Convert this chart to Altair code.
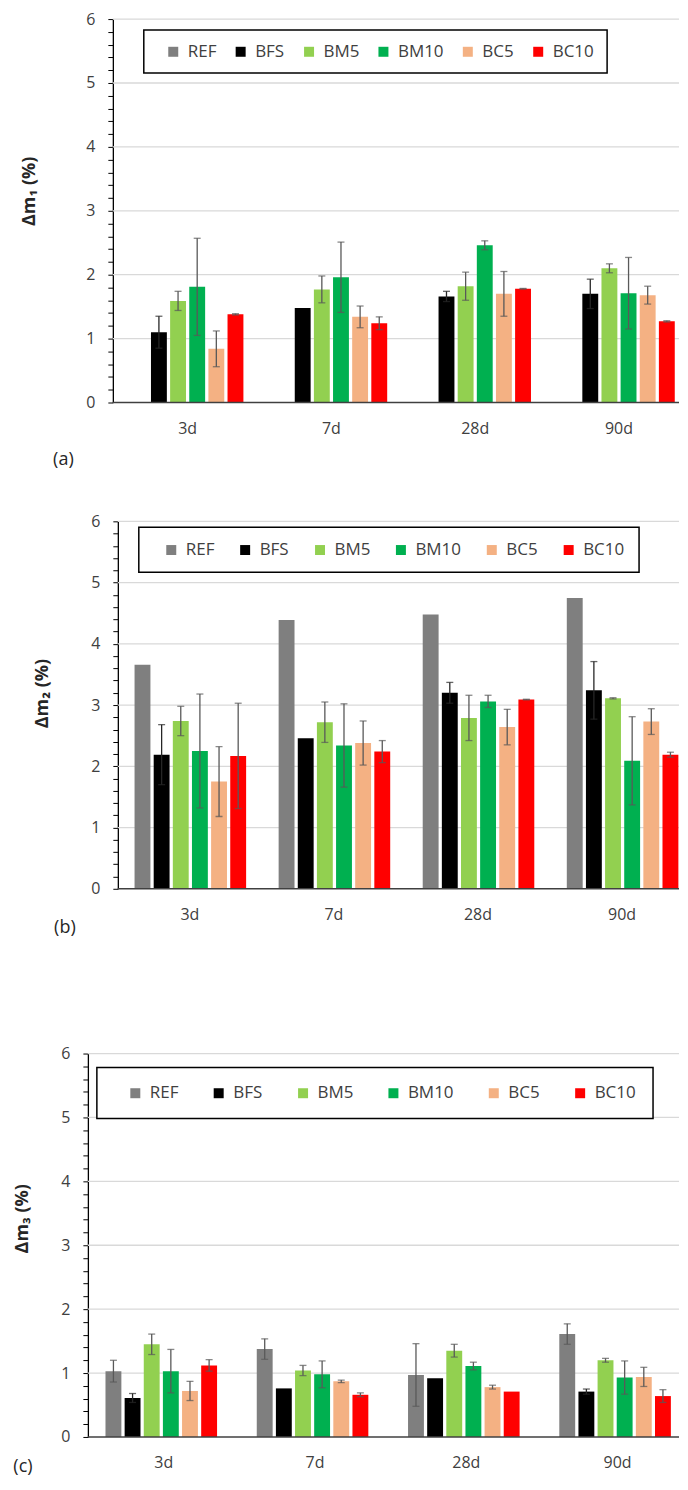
import altair as alt
import pandas as pd

FONT = "Open Sans"

AGES = ["3d", "7d", "28d", "90d"]
SERIES = ["REF", "BFS", "BM5", "BM10", "BC5", "BC10"]
BAR_COLORS = ["#7F7F7F", "#000000", "#92D050", "#00B050", "#F4B183", "#FF0000"]
ERR_COLORS = ["#595959", "#262626", "#595959", "#595959", "#595959", "#595959"]
Y_TICKS = [round(0.2 * i, 1) for i in range(31)]
GRID_Y = [1, 2, 3, 4, 5, 6]

# ---- panel (a): Δm1 (%) ----
A_REF = [None, None, None, None]
A_BFS = [1.10, 1.48, 1.66, 1.70]
A_BM5 = [1.59, 1.77, 1.82, 2.10]
A_BM10 = [1.81, 1.96, 2.46, 1.71]
A_BC5 = [0.84, 1.34, 1.70, 1.68]
A_BC10 = [1.38, 1.24, 1.78, 1.27]
A_REF_ERR = [0, 0, 0, 0]
A_BFS_ERR = [0.25, 0, 0.08, 0.23]
A_BM5_ERR = [0.15, 0.21, 0.22, 0.07]
A_BM10_ERR = [0.76, 0.55, 0.07, 0.56]
A_BC5_ERR = [0.28, 0.17, 0.35, 0.14]
A_BC10_ERR = [0.01, 0.10, 0.005, 0.01]

# ---- panel (b): Δm2 (%) ----
B_REF = [3.66, 4.39, 4.48, 4.75]
B_BFS = [2.19, 2.46, 3.20, 3.24]
B_BM5 = [2.74, 2.72, 2.79, 3.11]
B_BM10 = [2.25, 2.34, 3.06, 2.09]
B_BC5 = [1.75, 2.38, 2.64, 2.73]
B_BC10 = [2.17, 2.24, 3.09, 2.19]
B_REF_ERR = [0, 0, 0, 0]
B_BFS_ERR = [0.49, 0, 0.17, 0.47]
B_BM5_ERR = [0.24, 0.33, 0.37, 0.01]
B_BM10_ERR = [0.93, 0.68, 0.10, 0.72]
B_BC5_ERR = [0.57, 0.36, 0.29, 0.21]
B_BC10_ERR = [0.86, 0.18, 0.005, 0.04]

# ---- panel (c): Δm3 (%) ----
C_REF = [1.03, 1.375, 0.97, 1.61]
C_BFS = [0.61, 0.76, 0.92, 0.71]
C_BM5 = [1.45, 1.04, 1.35, 1.20]
C_BM10 = [1.03, 0.98, 1.11, 0.93]
C_BC5 = [0.72, 0.87, 0.78, 0.94]
C_BC10 = [1.12, 0.66, 0.71, 0.64]
C_REF_ERR = [0.17, 0.16, 0.49, 0.16]
C_BFS_ERR = [0.07, 0, 0, 0.04]
C_BM5_ERR = [0.16, 0.08, 0.10, 0.03]
C_BM10_ERR = [0.34, 0.21, 0.06, 0.26]
C_BC5_ERR = [0.15, 0.02, 0.03, 0.15]
C_BC10_ERR = [0.09, 0.03, 0, 0.10]

W = 592
PANELS = [
    dict(vals=[A_REF, A_BFS, A_BM5, A_BM10, A_BC5, A_BC10],
         errs=[A_REF_ERR, A_BFS_ERR, A_BM5_ERR, A_BM10_ERR, A_BC5_ERR, A_BC10_ERR],
         ylabel="Δm₁ (%)", tag="(a)", off=25,
         H=384, pi=0.2014, po=0.15625, al=0.942,
         lx=56, ly=11, lp=13, ltp=8, cp=15.5,
         tX=-83, tY=172, gx=-24.5, gy=442, aT=-10, aB=452),
    dict(vals=[B_REF, B_BFS, B_BM5, B_BM10, B_BC5, B_BC10],
         errs=[B_REF_ERR, B_BFS_ERR, B_BM5_ERR, B_BM10_ERR, B_BC5_ERR, B_BC10_ERR],
         ylabel="Δm₂ (%)", tag="(b)", off=30,
         H=368, pi=0.21, po=0.1563, al=1.0,
         lx=51, ly=6, lp=14, ltp=10, cp=22,
         tX=-75, tY=172, gx=-23, gy=407, aT=-51, aB=419),
    dict(vals=[C_REF, C_BFS, C_BM5, C_BM10, C_BC5, C_BC10],
         errs=[C_REF_ERR, C_BFS_ERR, C_BM5_ERR, C_BM10_ERR, C_BC5_ERR, C_BC10_ERR],
         ylabel="Δm₃ (%)", tag="(c)", off=0,
         H=384, pi=0.2079, po=0.0578, al=0.914,
         lx=9, ly=14, lp=17, ltp=13, cp=31.5,
         tX=-65, tY=165, gx=-65, gy=414, aT=-114, aB=424),
]
ANCHOR_X = -80

INT_TEST = "abs(datum.value - round(datum.value)) < 0.001"


def build_panel(p):
    rows = []
    for si, s in enumerate(SERIES):
        for ai, age in enumerate(AGES):
            v = p["vals"][si][ai]
            if v is None:
                continue
            e = p["errs"][si][ai]
            rows.append({"Age": age, "Series": s, "Value": v, "Err": e,
                         "lo": v - e, "hi": v + e, "ecol": ERR_COLORS[si]})
    df = pd.DataFrame(rows)
    dfe = df[df["Err"] > 0]

    xaxis = alt.Axis(title=None, ticks=False, tickSize=0, labelPadding=26,
                     labelBaseline="middle", labelAngle=0, labelFontSize=16,
                     labelColor="#404040", labelFont=FONT, domain=False, grid=False)
    yaxis = alt.Axis(values=Y_TICKS, offset=-p["off"],
                     labelExpr=INT_TEST + " ? format(datum.value, 'd') : ''",
                     labelOverlap=False, labelFontSize=16, labelColor="#404040",
                     labelFont=FONT, labelPadding=13,
                     tickSize=5, tickColor="#000000", tickWidth=1,
                     domainColor="#000000", domainWidth=1.3, grid=False,
                     titleX=p["tX"], titleY=p["tY"], titleAngle=270,
                     titleAlign="center", titleBaseline="middle",
                     titleFont=FONT, titleFontSize=18, titleFontWeight="bold",
                     titleColor="#262626")

    xs = alt.Scale(domain=AGES, paddingInner=p["pi"], paddingOuter=p["po"], align=p["al"])
    xo = alt.Scale(domain=SERIES, paddingInner=0.17, paddingOuter=0.085)
    ys = alt.Scale(domain=[0, 6], nice=False, zero=True)

    X = alt.X("Age:N", scale=xs, axis=xaxis, title=None)
    XO = alt.XOffset("Series:N", scale=xo)

    def Y(field):
        return alt.Y(field, scale=ys, axis=yaxis, title=p["ylabel"])

    legend = alt.Legend(title=" ", titleOrient="left", titleFontSize=1,
                        titlePadding=p["ltp"], orient="none",
                        legendX=p["lx"], legendY=p["ly"], direction="horizontal",
                        padding=p["lp"], columnPadding=p["cp"],
                        symbolType="square", symbolSize=100, symbolStrokeWidth=0,
                        labelFontSize=17, labelColor="#404040", labelFont=FONT,
                        labelOffset=6, strokeColor="#000000", fillColor="#FFFFFF")

    grid = alt.Chart(pd.DataFrame({"g": GRID_Y})).mark_rule(
        color="#D9D9D9", strokeWidth=1.3
    ).encode(y=Y("g:Q"), x=alt.value(p["off"]), x2=alt.value(W))

    bars = alt.Chart(df).mark_bar().encode(
        x=X, xOffset=XO, y=Y("Value:Q"),
        color=alt.Color("Series:N", scale=alt.Scale(domain=SERIES, range=BAR_COLORS),
                        legend=legend),
    )
    whisk = alt.Chart(dfe).mark_rule(strokeWidth=1.3).encode(
        x=X, xOffset=XO, y=Y("lo:Q"), y2="hi:Q",
        stroke=alt.Stroke("ecol:N", scale=None),
    )
    cap_hi = alt.Chart(dfe).mark_tick(orient="horizontal", size=7, thickness=1.3).encode(
        x=X, xOffset=XO, y=Y("hi:Q"), fill=alt.Fill("ecol:N", scale=None),
    )
    cap_lo = alt.Chart(dfe).mark_tick(orient="horizontal", size=7, thickness=1.3).encode(
        x=X, xOffset=XO, y=Y("lo:Q"), fill=alt.Fill("ecol:N", scale=None),
    )
    base = alt.Chart(pd.DataFrame({"z": [0]})).mark_rule(
        color="#404040", strokeWidth=1.5
    ).encode(y=Y("z:Q"), x=alt.value(p["off"]), x2=alt.value(W))

    tag = alt.Chart(pd.DataFrame({"t": [p["tag"]]})).mark_text(
        font=FONT, fontSize=18, color="#262626", align="center", baseline="middle"
    ).encode(text="t:N", x=alt.value(p["gx"]), y=alt.value(p["gy"]))
    anchor = alt.Chart(pd.DataFrame({"a": [0]})).mark_rule(opacity=0, strokeWidth=0.5).encode(
        x=alt.value(ANCHOR_X), y=alt.value(p["aT"]), y2=alt.value(p["aB"])
    )
    return alt.layer(grid, bars, whisk, cap_lo, cap_hi, base, tag, anchor).properties(
        width=W, height=p["H"]
    )


panels = [build_panel(p) for p in PANELS]

chart = alt.ConcatChart(
    concat=panels, columns=1, align="none", bounds="full", spacing=0, padding=0
).resolve_scale(color="independent").resolve_legend(color="independent").configure(
    font=FONT
).configure_view(stroke=None).configure_legend(strokeWidth=1.5)

chart.save("out.html", embed_options={"renderer": "svg", "actions": False})
